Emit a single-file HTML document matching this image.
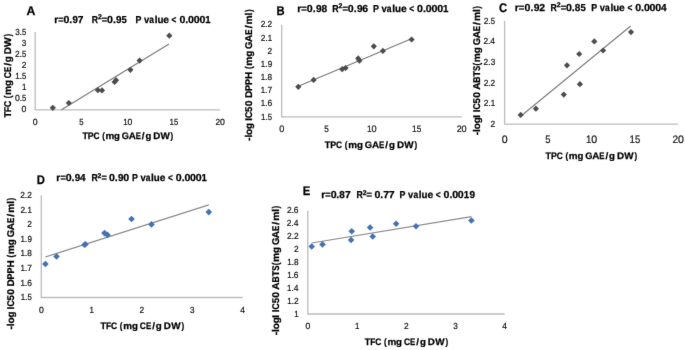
<!DOCTYPE html>
<html><head><meta charset="utf-8"><title>Correlation plots</title>
<style>
html,body{margin:0;padding:0;background:#fff;}
body{width:685px;height:350px;overflow:hidden;}
svg{display:block;}
text{font-family:"Liberation Sans",sans-serif;fill:#000;text-rendering:geometricPrecision;}
text[font-weight=bold],g[font-weight=bold] text{stroke:#000;stroke-width:0.25px;}
.t text{fill:#111111;stroke:#111111;stroke-width:0.2px;}
</style></head><body>
<svg width="685" height="350" viewBox="0 0 685 350">
<defs><filter id="bl" x="0" y="0" width="100%" height="100%" filterUnits="userSpaceOnUse" color-interpolation-filters="sRGB"><feConvolveMatrix order="3" kernelMatrix="0.0052 0.0619 0.0052 0.0619 0.7314 0.0619 0.0052 0.0619 0.0052" edgeMode="duplicate" preserveAlpha="true"/></filter></defs>
<rect width="685" height="350" fill="#fff"/>
<g filter="url(#bl)">
<rect width="685" height="350" fill="#fff"/>
<g><path d="M35.20 32.10V109.80H220.20" fill="none" stroke="#bcbcbc" stroke-width="1.3"/>
<g transform="translate(21.86 112.46)" font-size="8.9" class="t"><text x="-0.34" y="0" textLength="4.82" lengthAdjust="spacingAndGlyphs">0</text></g>
<g transform="translate(15.25 101.36)" font-size="8.9" class="t"><text x="-0.34" y="0" textLength="4.82" lengthAdjust="spacingAndGlyphs">0</text><text x="4.22" y="0" textLength="2.60" lengthAdjust="spacingAndGlyphs">.</text><text x="6.78" y="0" textLength="4.29" lengthAdjust="spacingAndGlyphs">5</text></g>
<g transform="translate(22.58 90.26)" font-size="8.9" class="t"><text x="-0.60" y="0" textLength="4.41" lengthAdjust="spacingAndGlyphs">1</text></g>
<g transform="translate(15.80 79.16)" font-size="8.9" class="t"><text x="-0.60" y="0" textLength="4.41" lengthAdjust="spacingAndGlyphs">1</text><text x="3.67" y="0" textLength="2.60" lengthAdjust="spacingAndGlyphs">.</text><text x="6.23" y="0" textLength="4.29" lengthAdjust="spacingAndGlyphs">5</text></g>
<g transform="translate(22.18 68.06)" font-size="8.9" class="t"><text x="-0.42" y="0" textLength="4.66" lengthAdjust="spacingAndGlyphs">2</text></g>
<g transform="translate(15.42 56.96)" font-size="8.9" class="t"><text x="-0.42" y="0" textLength="4.66" lengthAdjust="spacingAndGlyphs">2</text><text x="4.05" y="0" textLength="2.60" lengthAdjust="spacingAndGlyphs">.</text><text x="6.60" y="0" textLength="4.29" lengthAdjust="spacingAndGlyphs">5</text></g>
<g transform="translate(22.16 45.86)" font-size="8.9" class="t"><text x="-0.31" y="0" textLength="4.51" lengthAdjust="spacingAndGlyphs">3</text></g>
<g transform="translate(15.44 34.76)" font-size="8.9" class="t"><text x="-0.31" y="0" textLength="4.51" lengthAdjust="spacingAndGlyphs">3</text><text x="4.04" y="0" textLength="2.60" lengthAdjust="spacingAndGlyphs">.</text><text x="6.59" y="0" textLength="4.29" lengthAdjust="spacingAndGlyphs">5</text></g>
<g transform="translate(33.13 125.00)" font-size="8.9" class="t"><text x="-0.34" y="0" textLength="4.82" lengthAdjust="spacingAndGlyphs">0</text></g>
<g transform="translate(79.56 125.00)" font-size="8.9" class="t"><text x="-0.31" y="0" textLength="4.29" lengthAdjust="spacingAndGlyphs">5</text></g>
<g transform="translate(123.87 125.00)" font-size="8.9" class="t"><text x="-0.60" y="0" textLength="4.41" lengthAdjust="spacingAndGlyphs">1</text><text x="3.72" y="0" textLength="4.82" lengthAdjust="spacingAndGlyphs">0</text></g>
<g transform="translate(170.12 125.00)" font-size="8.9" class="t"><text x="-0.60" y="0" textLength="4.41" lengthAdjust="spacingAndGlyphs">1</text><text x="3.93" y="0" textLength="4.29" lengthAdjust="spacingAndGlyphs">5</text></g>
<g transform="translate(216.00 125.00)" font-size="8.9" class="t"><text x="-0.42" y="0" textLength="4.66" lengthAdjust="spacingAndGlyphs">2</text><text x="4.10" y="0" textLength="4.82" lengthAdjust="spacingAndGlyphs">0</text></g>
<line x1="61.5" y1="109.8" x2="169.0" y2="44.0" stroke="#787878" stroke-width="1.1"/>
<path d="M52.80 104.70L55.90 107.80L52.80 110.90L49.70 107.80Z" fill="#4d4d4d"/>
<path d="M68.80 99.90L71.90 103.00L68.80 106.10L65.70 103.00Z" fill="#4d4d4d"/>
<path d="M97.90 87.10L101.00 90.20L97.90 93.30L94.80 90.20Z" fill="#4d4d4d"/>
<path d="M102.00 87.30L105.10 90.40L102.00 93.50L98.90 90.40Z" fill="#4d4d4d"/>
<path d="M114.60 78.90L117.70 82.00L114.60 85.10L111.50 82.00Z" fill="#4d4d4d"/>
<path d="M116.00 77.10L119.10 80.20L116.00 83.30L112.90 80.20Z" fill="#4d4d4d"/>
<path d="M130.40 66.70L133.50 69.80L130.40 72.90L127.30 69.80Z" fill="#4d4d4d"/>
<path d="M139.60 57.50L142.70 60.60L139.60 63.70L136.50 60.60Z" fill="#4d4d4d"/>
<path d="M169.30 32.60L172.40 35.70L169.30 38.80L166.20 35.70Z" fill="#4d4d4d"/>
<text x="26.6" y="15.3" font-size="12.5" font-weight="bold" transform="translate(26.6 0) scale(0.98 1) translate(-26.6 0)">A</text>
<g transform="translate(55.00 22.70)" font-size="10.1" font-weight="bold"><text x="-0.67" y="0" textLength="3.95" lengthAdjust="spacingAndGlyphs">r</text><text x="3.33" y="0" textLength="5.33" lengthAdjust="spacingAndGlyphs">=</text><text x="8.53" y="0" textLength="5.90" lengthAdjust="spacingAndGlyphs">0</text><text x="14.22" y="0" textLength="2.95" lengthAdjust="spacingAndGlyphs">.</text><text x="17.40" y="0" textLength="5.39" lengthAdjust="spacingAndGlyphs">9</text><text x="22.66" y="0" textLength="5.69" lengthAdjust="spacingAndGlyphs">7</text></g>
<g transform="translate(92.30 22.70)" font-size="10.1" font-weight="bold"><text x="-0.58" y="0" textLength="6.25" lengthAdjust="spacingAndGlyphs">R</text><text x="5.62" y="-3.6" font-size="6.87" textLength="3.82" lengthAdjust="spacingAndGlyphs">2</text><text x="9.47" y="0" textLength="5.43" lengthAdjust="spacingAndGlyphs">=</text><text x="14.81" y="0" textLength="5.90" lengthAdjust="spacingAndGlyphs">0</text><text x="20.58" y="0" textLength="2.95" lengthAdjust="spacingAndGlyphs">.</text><text x="23.78" y="0" textLength="5.49" lengthAdjust="spacingAndGlyphs">9</text><text x="29.17" y="0" textLength="5.29" lengthAdjust="spacingAndGlyphs">5</text></g>
<g transform="translate(136.10 22.70)" font-size="10.1" font-weight="bold"><text x="-0.59" y="0" textLength="5.91" lengthAdjust="spacingAndGlyphs">P</text><text x="7.85" y="0" textLength="5.23" lengthAdjust="spacingAndGlyphs">v</text><text x="13.24" y="0" textLength="4.72" lengthAdjust="spacingAndGlyphs">a</text><text x="18.57" y="0" textLength="2.80" lengthAdjust="spacingAndGlyphs">l</text><text x="21.31" y="0" textLength="5.97" lengthAdjust="spacingAndGlyphs">u</text><text x="27.26" y="0" textLength="5.68" lengthAdjust="spacingAndGlyphs">e</text><text x="35.53" y="0" textLength="4.87" lengthAdjust="spacingAndGlyphs">&lt;</text><text x="43.39" y="0" textLength="5.90" lengthAdjust="spacingAndGlyphs">0</text><text x="49.17" y="0" textLength="2.95" lengthAdjust="spacingAndGlyphs">.</text><text x="52.01" y="0" textLength="5.90" lengthAdjust="spacingAndGlyphs">0</text><text x="57.66" y="0" textLength="5.90" lengthAdjust="spacingAndGlyphs">0</text><text x="63.31" y="0" textLength="5.90" lengthAdjust="spacingAndGlyphs">0</text><text x="69.21" y="0" textLength="5.36" lengthAdjust="spacingAndGlyphs">1</text></g>
<g transform="translate(82.50 138.80)" font-size="9.4" font-weight="bold"><text x="-0.10" y="0" textLength="5.42" lengthAdjust="spacingAndGlyphs">T</text><text x="5.36" y="0" textLength="5.81" lengthAdjust="spacingAndGlyphs">P</text><text x="11.03" y="0" textLength="6.03" lengthAdjust="spacingAndGlyphs">C</text><text x="19.70" y="0" textLength="2.62" lengthAdjust="spacingAndGlyphs">(</text><text x="22.93" y="0" textLength="8.78" lengthAdjust="spacingAndGlyphs">m</text><text x="31.60" y="0" textLength="5.86" lengthAdjust="spacingAndGlyphs">g</text><text x="39.32" y="0" textLength="7.17" lengthAdjust="spacingAndGlyphs">G</text><text x="46.16" y="0" textLength="7.11" lengthAdjust="spacingAndGlyphs">A</text><text x="53.13" y="0" textLength="5.15" lengthAdjust="spacingAndGlyphs">E</text><text x="59.35" y="0" textLength="2.74" lengthAdjust="spacingAndGlyphs">/</text><text x="62.92" y="0" textLength="5.86" lengthAdjust="spacingAndGlyphs">g</text><text x="70.69" y="0" textLength="7.10" lengthAdjust="spacingAndGlyphs">D</text><text x="77.94" y="0" textLength="9.32" lengthAdjust="spacingAndGlyphs">W</text><text x="88.07" y="0" textLength="2.62" lengthAdjust="spacingAndGlyphs">)</text></g>
<g transform="translate(10.8 117.4) rotate(-90)" font-size="9.8" font-weight="bold"><text x="-0.10" y="0" textLength="5.52" lengthAdjust="spacingAndGlyphs">T</text><text x="5.45" y="0" textLength="5.11" lengthAdjust="spacingAndGlyphs">F</text><text x="10.41" y="0" textLength="6.13" lengthAdjust="spacingAndGlyphs">C</text><text x="19.23" y="0" textLength="2.67" lengthAdjust="spacingAndGlyphs">(</text><text x="22.44" y="0" textLength="9.07" lengthAdjust="spacingAndGlyphs">m</text><text x="31.33" y="0" textLength="5.96" lengthAdjust="spacingAndGlyphs">g</text><text x="39.16" y="0" textLength="6.13" lengthAdjust="spacingAndGlyphs">C</text><text x="45.29" y="0" textLength="5.24" lengthAdjust="spacingAndGlyphs">E</text><text x="51.58" y="0" textLength="2.86" lengthAdjust="spacingAndGlyphs">/</text><text x="55.25" y="0" textLength="5.96" lengthAdjust="spacingAndGlyphs">g</text><text x="63.15" y="0" textLength="7.22" lengthAdjust="spacingAndGlyphs">D</text><text x="70.41" y="0" textLength="9.71" lengthAdjust="spacingAndGlyphs">W</text><text x="80.83" y="0" textLength="2.67" lengthAdjust="spacingAndGlyphs">)</text></g></g>
<g><path d="M281.70 24.71V116.90H461.70" fill="none" stroke="#bcbcbc" stroke-width="1.3"/>
<g transform="translate(261.60 119.56)" font-size="8.9" class="t"><text x="-0.60" y="0" textLength="4.41" lengthAdjust="spacingAndGlyphs">1</text><text x="3.67" y="0" textLength="2.60" lengthAdjust="spacingAndGlyphs">.</text><text x="6.23" y="0" textLength="4.29" lengthAdjust="spacingAndGlyphs">5</text></g>
<g transform="translate(261.38 106.39)" font-size="8.9" class="t"><text x="-0.60" y="0" textLength="4.41" lengthAdjust="spacingAndGlyphs">1</text><text x="3.67" y="0" textLength="2.60" lengthAdjust="spacingAndGlyphs">.</text><text x="6.10" y="0" textLength="4.69" lengthAdjust="spacingAndGlyphs">6</text></g>
<g transform="translate(261.36 93.22)" font-size="8.9" class="t"><text x="-0.60" y="0" textLength="4.41" lengthAdjust="spacingAndGlyphs">1</text><text x="3.67" y="0" textLength="2.60" lengthAdjust="spacingAndGlyphs">.</text><text x="6.12" y="0" textLength="4.75" lengthAdjust="spacingAndGlyphs">7</text></g>
<g transform="translate(261.43 80.05)" font-size="8.9" class="t"><text x="-0.60" y="0" textLength="4.41" lengthAdjust="spacingAndGlyphs">1</text><text x="3.67" y="0" textLength="2.60" lengthAdjust="spacingAndGlyphs">.</text><text x="6.13" y="0" textLength="4.60" lengthAdjust="spacingAndGlyphs">8</text></g>
<g transform="translate(261.38 66.88)" font-size="8.9" class="t"><text x="-0.60" y="0" textLength="4.41" lengthAdjust="spacingAndGlyphs">1</text><text x="3.67" y="0" textLength="2.60" lengthAdjust="spacingAndGlyphs">.</text><text x="6.33" y="0" textLength="4.48" lengthAdjust="spacingAndGlyphs">9</text></g>
<g transform="translate(267.98 53.71)" font-size="8.9" class="t"><text x="-0.42" y="0" textLength="4.66" lengthAdjust="spacingAndGlyphs">2</text></g>
<g transform="translate(261.10 40.54)" font-size="8.9" class="t"><text x="-0.42" y="0" textLength="4.66" lengthAdjust="spacingAndGlyphs">2</text><text x="4.05" y="0" textLength="2.60" lengthAdjust="spacingAndGlyphs">.</text><text x="6.68" y="0" textLength="4.41" lengthAdjust="spacingAndGlyphs">1</text></g>
<g transform="translate(261.07 27.37)" font-size="8.9" class="t"><text x="-0.42" y="0" textLength="4.66" lengthAdjust="spacingAndGlyphs">2</text><text x="4.05" y="0" textLength="2.60" lengthAdjust="spacingAndGlyphs">.</text><text x="6.49" y="0" textLength="4.66" lengthAdjust="spacingAndGlyphs">2</text></g>
<g transform="translate(279.51 132.20)" font-size="9.434000000000001" class="t"><text x="-0.36" y="0" textLength="5.11" lengthAdjust="spacingAndGlyphs">0</text></g>
<g transform="translate(324.69 132.20)" font-size="9.434000000000001" class="t"><text x="-0.33" y="0" textLength="4.55" lengthAdjust="spacingAndGlyphs">5</text></g>
<g transform="translate(367.64 132.20)" font-size="9.434000000000001" class="t"><text x="-0.64" y="0" textLength="4.67" lengthAdjust="spacingAndGlyphs">1</text><text x="3.95" y="0" textLength="5.11" lengthAdjust="spacingAndGlyphs">0</text></g>
<g transform="translate(412.64 132.20)" font-size="9.434000000000001" class="t"><text x="-0.64" y="0" textLength="4.67" lengthAdjust="spacingAndGlyphs">1</text><text x="4.17" y="0" textLength="4.55" lengthAdjust="spacingAndGlyphs">5</text></g>
<g transform="translate(457.24 132.20)" font-size="9.434000000000001" class="t"><text x="-0.45" y="0" textLength="4.94" lengthAdjust="spacingAndGlyphs">2</text><text x="4.35" y="0" textLength="5.11" lengthAdjust="spacingAndGlyphs">0</text></g>
<line x1="298.3" y1="86.3" x2="411.5" y2="38.8" stroke="#787878" stroke-width="1.1"/>
<path d="M298.30 83.70L301.40 86.80L298.30 89.90L295.20 86.80Z" fill="#4d4d4d"/>
<path d="M313.60 76.80L316.70 79.90L313.60 83.00L310.50 79.90Z" fill="#4d4d4d"/>
<path d="M342.20 66.10L345.30 69.20L342.20 72.30L339.10 69.20Z" fill="#4d4d4d"/>
<path d="M345.60 64.90L348.70 68.00L345.60 71.10L342.50 68.00Z" fill="#4d4d4d"/>
<path d="M358.20 55.30L361.30 58.40L358.20 61.50L355.10 58.40Z" fill="#4d4d4d"/>
<path d="M359.40 57.60L362.50 60.70L359.40 63.80L356.30 60.70Z" fill="#4d4d4d"/>
<path d="M373.80 43.20L376.90 46.30L373.80 49.40L370.70 46.30Z" fill="#4d4d4d"/>
<path d="M382.90 47.80L386.00 50.90L382.90 54.00L379.80 50.90Z" fill="#4d4d4d"/>
<path d="M411.60 36.40L414.70 39.50L411.60 42.60L408.50 39.50Z" fill="#4d4d4d"/>
<text x="276.4" y="15.0" font-size="12.5" font-weight="bold" transform="translate(276.4 0) scale(0.9 1) translate(-276.4 0)">B</text>
<g transform="translate(297.90 11.70)" font-size="10.1" font-weight="bold"><text x="-0.69" y="0" textLength="4.10" lengthAdjust="spacingAndGlyphs">r</text><text x="3.45" y="0" textLength="5.53" lengthAdjust="spacingAndGlyphs">=</text><text x="8.96" y="0" textLength="5.90" lengthAdjust="spacingAndGlyphs">0</text><text x="14.81" y="0" textLength="2.95" lengthAdjust="spacingAndGlyphs">.</text><text x="18.05" y="0" textLength="5.59" lengthAdjust="spacingAndGlyphs">9</text><text x="23.52" y="0" textLength="5.69" lengthAdjust="spacingAndGlyphs">8</text></g>
<g transform="translate(332.80 11.70)" font-size="10.1" font-weight="bold"><text x="-0.59" y="0" textLength="6.34" lengthAdjust="spacingAndGlyphs">R</text><text x="5.70" y="-3.6" font-size="6.87" textLength="3.87" lengthAdjust="spacingAndGlyphs">2</text><text x="9.60" y="0" textLength="5.50" lengthAdjust="spacingAndGlyphs">=</text><text x="15.06" y="0" textLength="5.90" lengthAdjust="spacingAndGlyphs">0</text><text x="20.88" y="0" textLength="2.95" lengthAdjust="spacingAndGlyphs">.</text><text x="24.11" y="0" textLength="5.56" lengthAdjust="spacingAndGlyphs">9</text><text x="29.53" y="0" textLength="5.85" lengthAdjust="spacingAndGlyphs">6</text></g>
<g transform="translate(373.50 11.70)" font-size="10.1" font-weight="bold"><text x="-0.60" y="0" textLength="5.94" lengthAdjust="spacingAndGlyphs">P</text><text x="7.89" y="0" textLength="5.26" lengthAdjust="spacingAndGlyphs">v</text><text x="13.31" y="0" textLength="4.75" lengthAdjust="spacingAndGlyphs">a</text><text x="18.67" y="0" textLength="2.81" lengthAdjust="spacingAndGlyphs">l</text><text x="21.42" y="0" textLength="6.01" lengthAdjust="spacingAndGlyphs">u</text><text x="27.40" y="0" textLength="5.71" lengthAdjust="spacingAndGlyphs">e</text><text x="35.73" y="0" textLength="4.90" lengthAdjust="spacingAndGlyphs">&lt;</text><text x="43.64" y="0" textLength="5.90" lengthAdjust="spacingAndGlyphs">0</text><text x="49.45" y="0" textLength="2.95" lengthAdjust="spacingAndGlyphs">.</text><text x="52.31" y="0" textLength="5.90" lengthAdjust="spacingAndGlyphs">0</text><text x="57.99" y="0" textLength="5.90" lengthAdjust="spacingAndGlyphs">0</text><text x="63.66" y="0" textLength="5.90" lengthAdjust="spacingAndGlyphs">0</text><text x="69.58" y="0" textLength="5.39" lengthAdjust="spacingAndGlyphs">1</text></g>
<g transform="translate(324.80 147.70)" font-size="9.4" font-weight="bold"><text x="-0.10" y="0" textLength="5.53" lengthAdjust="spacingAndGlyphs">T</text><text x="5.46" y="0" textLength="5.92" lengthAdjust="spacingAndGlyphs">P</text><text x="11.24" y="0" textLength="6.14" lengthAdjust="spacingAndGlyphs">C</text><text x="20.07" y="0" textLength="2.67" lengthAdjust="spacingAndGlyphs">(</text><text x="23.44" y="0" textLength="8.78" lengthAdjust="spacingAndGlyphs">m</text><text x="32.19" y="0" textLength="5.97" lengthAdjust="spacingAndGlyphs">g</text><text x="40.06" y="0" textLength="7.31" lengthAdjust="spacingAndGlyphs">G</text><text x="47.09" y="0" textLength="7.13" lengthAdjust="spacingAndGlyphs">A</text><text x="54.13" y="0" textLength="5.25" lengthAdjust="spacingAndGlyphs">E</text><text x="60.49" y="0" textLength="2.74" lengthAdjust="spacingAndGlyphs">/</text><text x="64.11" y="0" textLength="5.97" lengthAdjust="spacingAndGlyphs">g</text><text x="72.08" y="0" textLength="7.13" lengthAdjust="spacingAndGlyphs">D</text><text x="79.49" y="0" textLength="9.32" lengthAdjust="spacingAndGlyphs">W</text><text x="89.73" y="0" textLength="2.67" lengthAdjust="spacingAndGlyphs">)</text></g>
<g transform="translate(252.0 140.7) rotate(-90)" font-size="9.8" font-weight="bold"><text x="-0.32" y="0" textLength="3.43" lengthAdjust="spacingAndGlyphs">-</text><text x="3.08" y="0" textLength="2.82" lengthAdjust="spacingAndGlyphs">l</text><text x="5.82" y="0" textLength="6.15" lengthAdjust="spacingAndGlyphs">o</text><text x="11.77" y="0" textLength="6.01" lengthAdjust="spacingAndGlyphs">g</text><text x="19.89" y="0" textLength="2.80" lengthAdjust="spacingAndGlyphs">I</text><text x="22.66" y="0" textLength="6.19" lengthAdjust="spacingAndGlyphs">C</text><text x="28.76" y="0" textLength="5.37" lengthAdjust="spacingAndGlyphs">5</text><text x="34.43" y="0" textLength="5.72" lengthAdjust="spacingAndGlyphs">0</text><text x="42.63" y="0" textLength="7.29" lengthAdjust="spacingAndGlyphs">D</text><text x="49.79" y="0" textLength="5.97" lengthAdjust="spacingAndGlyphs">P</text><text x="55.78" y="0" textLength="5.97" lengthAdjust="spacingAndGlyphs">P</text><text x="61.68" y="0" textLength="7.19" lengthAdjust="spacingAndGlyphs">H</text><text x="71.65" y="0" textLength="2.69" lengthAdjust="spacingAndGlyphs">(</text><text x="74.89" y="0" textLength="9.15" lengthAdjust="spacingAndGlyphs">m</text><text x="83.87" y="0" textLength="6.01" lengthAdjust="spacingAndGlyphs">g</text><text x="91.79" y="0" textLength="7.37" lengthAdjust="spacingAndGlyphs">G</text><text x="98.82" y="0" textLength="7.30" lengthAdjust="spacingAndGlyphs">A</text><text x="105.98" y="0" textLength="5.29" lengthAdjust="spacingAndGlyphs">E</text><text x="112.34" y="0" textLength="2.86" lengthAdjust="spacingAndGlyphs">/</text><text x="116.20" y="0" textLength="9.15" lengthAdjust="spacingAndGlyphs">m</text><text x="125.30" y="0" textLength="2.82" lengthAdjust="spacingAndGlyphs">l</text><text x="128.61" y="0" textLength="2.69" lengthAdjust="spacingAndGlyphs">)</text></g></g>
<g><path d="M504.60 21.10V124.10H678.20" fill="none" stroke="#bcbcbc" stroke-width="1.3"/>
<g transform="translate(490.98 126.76)" font-size="8.9" class="t"><text x="-0.42" y="0" textLength="4.66" lengthAdjust="spacingAndGlyphs">2</text></g>
<g transform="translate(484.10 106.16)" font-size="8.9" class="t"><text x="-0.42" y="0" textLength="4.66" lengthAdjust="spacingAndGlyphs">2</text><text x="4.05" y="0" textLength="2.60" lengthAdjust="spacingAndGlyphs">.</text><text x="6.68" y="0" textLength="4.41" lengthAdjust="spacingAndGlyphs">1</text></g>
<g transform="translate(484.07 85.56)" font-size="8.9" class="t"><text x="-0.42" y="0" textLength="4.66" lengthAdjust="spacingAndGlyphs">2</text><text x="4.05" y="0" textLength="2.60" lengthAdjust="spacingAndGlyphs">.</text><text x="6.49" y="0" textLength="4.66" lengthAdjust="spacingAndGlyphs">2</text></g>
<g transform="translate(484.03 64.96)" font-size="8.9" class="t"><text x="-0.42" y="0" textLength="4.66" lengthAdjust="spacingAndGlyphs">2</text><text x="4.05" y="0" textLength="2.60" lengthAdjust="spacingAndGlyphs">.</text><text x="6.61" y="0" textLength="4.51" lengthAdjust="spacingAndGlyphs">3</text></g>
<g transform="translate(483.84 44.36)" font-size="8.9" class="t"><text x="-0.42" y="0" textLength="4.66" lengthAdjust="spacingAndGlyphs">2</text><text x="4.05" y="0" textLength="2.60" lengthAdjust="spacingAndGlyphs">.</text><text x="6.46" y="0" textLength="4.75" lengthAdjust="spacingAndGlyphs">4</text></g>
<g transform="translate(484.22 23.76)" font-size="8.9" class="t"><text x="-0.42" y="0" textLength="4.66" lengthAdjust="spacingAndGlyphs">2</text><text x="4.05" y="0" textLength="2.60" lengthAdjust="spacingAndGlyphs">.</text><text x="6.60" y="0" textLength="4.29" lengthAdjust="spacingAndGlyphs">5</text></g>
<g transform="translate(502.07 142.70)" font-size="10.858" class="t"><text x="-0.41" y="0" textLength="5.88" lengthAdjust="spacingAndGlyphs">0</text></g>
<g transform="translate(545.69 142.70)" font-size="10.858" class="t"><text x="-0.38" y="0" textLength="5.24" lengthAdjust="spacingAndGlyphs">5</text></g>
<g transform="translate(586.73 142.70)" font-size="10.858" class="t"><text x="-0.74" y="0" textLength="5.38" lengthAdjust="spacingAndGlyphs">1</text><text x="4.54" y="0" textLength="5.88" lengthAdjust="spacingAndGlyphs">0</text></g>
<g transform="translate(630.13 142.70)" font-size="10.858" class="t"><text x="-0.74" y="0" textLength="5.38" lengthAdjust="spacingAndGlyphs">1</text><text x="4.79" y="0" textLength="5.24" lengthAdjust="spacingAndGlyphs">5</text></g>
<g transform="translate(673.07 142.70)" font-size="10.858" class="t"><text x="-0.51" y="0" textLength="5.68" lengthAdjust="spacingAndGlyphs">2</text><text x="5.00" y="0" textLength="5.88" lengthAdjust="spacingAndGlyphs">0</text></g>
<line x1="520.7" y1="116.2" x2="630.7" y2="26.0" stroke="#787878" stroke-width="1.1"/>
<path d="M520.70 111.80L523.80 114.90L520.70 118.00L517.60 114.90Z" fill="#4d4d4d"/>
<path d="M535.90 105.60L539.00 108.70L535.90 111.80L532.80 108.70Z" fill="#4d4d4d"/>
<path d="M563.80 91.50L566.90 94.60L563.80 97.70L560.70 94.60Z" fill="#4d4d4d"/>
<path d="M567.00 62.20L570.10 65.30L567.00 68.40L563.90 65.30Z" fill="#4d4d4d"/>
<path d="M579.20 50.90L582.30 54.00L579.20 57.10L576.10 54.00Z" fill="#4d4d4d"/>
<path d="M579.90 81.10L583.00 84.20L579.90 87.30L576.80 84.20Z" fill="#4d4d4d"/>
<path d="M594.30 38.30L597.40 41.40L594.30 44.50L591.20 41.40Z" fill="#4d4d4d"/>
<path d="M603.10 47.40L606.20 50.50L603.10 53.60L600.00 50.50Z" fill="#4d4d4d"/>
<path d="M631.00 29.00L634.10 32.10L631.00 35.20L627.90 32.10Z" fill="#4d4d4d"/>
<text x="499.1" y="11.7" font-size="12.5" font-weight="bold" transform="translate(499.1 0) scale(0.9 1) translate(-499.1 0)">C</text>
<g transform="translate(515.30 10.70)" font-size="10.1" font-weight="bold"><text x="-0.67" y="0" textLength="4.13" lengthAdjust="spacingAndGlyphs">r</text><text x="3.53" y="0" textLength="5.66" lengthAdjust="spacingAndGlyphs">=</text><text x="9.23" y="0" textLength="5.90" lengthAdjust="spacingAndGlyphs">0</text><text x="15.18" y="0" textLength="2.95" lengthAdjust="spacingAndGlyphs">.</text><text x="18.46" y="0" textLength="5.72" lengthAdjust="spacingAndGlyphs">9</text><text x="24.07" y="0" textLength="5.85" lengthAdjust="spacingAndGlyphs">2</text></g>
<g transform="translate(551.20 10.70)" font-size="10.1" font-weight="bold"><text x="-0.58" y="0" textLength="6.27" lengthAdjust="spacingAndGlyphs">R</text><text x="5.64" y="-3.6" font-size="6.87" textLength="3.83" lengthAdjust="spacingAndGlyphs">2</text><text x="9.49" y="0" textLength="5.44" lengthAdjust="spacingAndGlyphs">=</text><text x="14.87" y="0" textLength="5.90" lengthAdjust="spacingAndGlyphs">0</text><text x="20.64" y="0" textLength="2.95" lengthAdjust="spacingAndGlyphs">.</text><text x="23.61" y="0" textLength="5.60" lengthAdjust="spacingAndGlyphs">8</text><text x="29.26" y="0" textLength="5.31" lengthAdjust="spacingAndGlyphs">5</text></g>
<g transform="translate(591.80 10.70)" font-size="10.1" font-weight="bold"><text x="-0.59" y="0" textLength="5.92" lengthAdjust="spacingAndGlyphs">P</text><text x="7.86" y="0" textLength="5.24" lengthAdjust="spacingAndGlyphs">v</text><text x="13.27" y="0" textLength="4.73" lengthAdjust="spacingAndGlyphs">a</text><text x="18.61" y="0" textLength="2.80" lengthAdjust="spacingAndGlyphs">l</text><text x="21.35" y="0" textLength="5.99" lengthAdjust="spacingAndGlyphs">u</text><text x="27.31" y="0" textLength="5.69" lengthAdjust="spacingAndGlyphs">e</text><text x="35.61" y="0" textLength="4.88" lengthAdjust="spacingAndGlyphs">&lt;</text><text x="43.48" y="0" textLength="5.90" lengthAdjust="spacingAndGlyphs">0</text><text x="49.28" y="0" textLength="2.95" lengthAdjust="spacingAndGlyphs">.</text><text x="52.12" y="0" textLength="5.90" lengthAdjust="spacingAndGlyphs">0</text><text x="57.78" y="0" textLength="5.90" lengthAdjust="spacingAndGlyphs">0</text><text x="63.44" y="0" textLength="5.90" lengthAdjust="spacingAndGlyphs">0</text><text x="69.14" y="0" textLength="5.61" lengthAdjust="spacingAndGlyphs">4</text></g>
<g transform="translate(545.60 158.70)" font-size="9.4" font-weight="bold"><text x="-0.10" y="0" textLength="5.47" lengthAdjust="spacingAndGlyphs">T</text><text x="5.40" y="0" textLength="5.86" lengthAdjust="spacingAndGlyphs">P</text><text x="11.13" y="0" textLength="6.08" lengthAdjust="spacingAndGlyphs">C</text><text x="19.87" y="0" textLength="2.65" lengthAdjust="spacingAndGlyphs">(</text><text x="23.17" y="0" textLength="8.78" lengthAdjust="spacingAndGlyphs">m</text><text x="31.88" y="0" textLength="5.91" lengthAdjust="spacingAndGlyphs">g</text><text x="39.67" y="0" textLength="7.24" lengthAdjust="spacingAndGlyphs">G</text><text x="46.59" y="0" textLength="7.13" lengthAdjust="spacingAndGlyphs">A</text><text x="53.60" y="0" textLength="5.20" lengthAdjust="spacingAndGlyphs">E</text><text x="59.89" y="0" textLength="2.74" lengthAdjust="spacingAndGlyphs">/</text><text x="63.48" y="0" textLength="5.91" lengthAdjust="spacingAndGlyphs">g</text><text x="71.34" y="0" textLength="7.13" lengthAdjust="spacingAndGlyphs">D</text><text x="78.67" y="0" textLength="9.32" lengthAdjust="spacingAndGlyphs">W</text><text x="88.85" y="0" textLength="2.65" lengthAdjust="spacingAndGlyphs">)</text></g>
<g transform="translate(480.0 135.0) rotate(-90)" font-size="9.8" font-weight="bold"><text x="-0.33" y="0" textLength="3.43" lengthAdjust="spacingAndGlyphs">-</text><text x="3.07" y="0" textLength="2.81" lengthAdjust="spacingAndGlyphs">l</text><text x="5.79" y="0" textLength="6.12" lengthAdjust="spacingAndGlyphs">o</text><text x="11.71" y="0" textLength="5.99" lengthAdjust="spacingAndGlyphs">g</text><text x="17.26" y="0" textLength="2.78" lengthAdjust="spacingAndGlyphs">I</text><text x="22.78" y="0" textLength="2.78" lengthAdjust="spacingAndGlyphs">I</text><text x="25.54" y="0" textLength="6.16" lengthAdjust="spacingAndGlyphs">C</text><text x="31.61" y="0" textLength="5.34" lengthAdjust="spacingAndGlyphs">5</text><text x="37.24" y="0" textLength="5.72" lengthAdjust="spacingAndGlyphs">0</text><text x="45.23" y="0" textLength="7.27" lengthAdjust="spacingAndGlyphs">A</text><text x="52.31" y="0" textLength="6.22" lengthAdjust="spacingAndGlyphs">B</text><text x="58.51" y="0" textLength="5.54" lengthAdjust="spacingAndGlyphs">T</text><text x="64.03" y="0" textLength="5.28" lengthAdjust="spacingAndGlyphs">S</text><text x="69.62" y="0" textLength="2.68" lengthAdjust="spacingAndGlyphs">(</text><text x="72.85" y="0" textLength="9.11" lengthAdjust="spacingAndGlyphs">m</text><text x="81.79" y="0" textLength="5.99" lengthAdjust="spacingAndGlyphs">g</text><text x="89.67" y="0" textLength="7.33" lengthAdjust="spacingAndGlyphs">G</text><text x="96.67" y="0" textLength="7.27" lengthAdjust="spacingAndGlyphs">A</text><text x="103.79" y="0" textLength="5.27" lengthAdjust="spacingAndGlyphs">E</text><text x="110.12" y="0" textLength="2.86" lengthAdjust="spacingAndGlyphs">/</text><text x="113.97" y="0" textLength="9.11" lengthAdjust="spacingAndGlyphs">m</text><text x="123.03" y="0" textLength="2.81" lengthAdjust="spacingAndGlyphs">l</text><text x="126.32" y="0" textLength="2.68" lengthAdjust="spacingAndGlyphs">)</text></g></g>
<g><path d="M41.30 195.58V297.50H242.50" fill="none" stroke="#bcbcbc" stroke-width="1.3"/>
<g transform="translate(21.30 300.16)" font-size="8.9" class="t"><text x="-0.60" y="0" textLength="4.41" lengthAdjust="spacingAndGlyphs">1</text><text x="3.67" y="0" textLength="2.60" lengthAdjust="spacingAndGlyphs">.</text><text x="6.23" y="0" textLength="4.29" lengthAdjust="spacingAndGlyphs">5</text></g>
<g transform="translate(21.08 285.60)" font-size="8.9" class="t"><text x="-0.60" y="0" textLength="4.41" lengthAdjust="spacingAndGlyphs">1</text><text x="3.67" y="0" textLength="2.60" lengthAdjust="spacingAndGlyphs">.</text><text x="6.10" y="0" textLength="4.69" lengthAdjust="spacingAndGlyphs">6</text></g>
<g transform="translate(21.06 271.04)" font-size="8.9" class="t"><text x="-0.60" y="0" textLength="4.41" lengthAdjust="spacingAndGlyphs">1</text><text x="3.67" y="0" textLength="2.60" lengthAdjust="spacingAndGlyphs">.</text><text x="6.12" y="0" textLength="4.75" lengthAdjust="spacingAndGlyphs">7</text></g>
<g transform="translate(21.13 256.48)" font-size="8.9" class="t"><text x="-0.60" y="0" textLength="4.41" lengthAdjust="spacingAndGlyphs">1</text><text x="3.67" y="0" textLength="2.60" lengthAdjust="spacingAndGlyphs">.</text><text x="6.13" y="0" textLength="4.60" lengthAdjust="spacingAndGlyphs">8</text></g>
<g transform="translate(21.08 241.92)" font-size="8.9" class="t"><text x="-0.60" y="0" textLength="4.41" lengthAdjust="spacingAndGlyphs">1</text><text x="3.67" y="0" textLength="2.60" lengthAdjust="spacingAndGlyphs">.</text><text x="6.33" y="0" textLength="4.48" lengthAdjust="spacingAndGlyphs">9</text></g>
<g transform="translate(27.68 227.36)" font-size="8.9" class="t"><text x="-0.42" y="0" textLength="4.66" lengthAdjust="spacingAndGlyphs">2</text></g>
<g transform="translate(20.80 212.80)" font-size="8.9" class="t"><text x="-0.42" y="0" textLength="4.66" lengthAdjust="spacingAndGlyphs">2</text><text x="4.05" y="0" textLength="2.60" lengthAdjust="spacingAndGlyphs">.</text><text x="6.68" y="0" textLength="4.41" lengthAdjust="spacingAndGlyphs">1</text></g>
<g transform="translate(20.77 198.24)" font-size="8.9" class="t"><text x="-0.42" y="0" textLength="4.66" lengthAdjust="spacingAndGlyphs">2</text><text x="4.05" y="0" textLength="2.60" lengthAdjust="spacingAndGlyphs">.</text><text x="6.49" y="0" textLength="4.66" lengthAdjust="spacingAndGlyphs">2</text></g>
<g transform="translate(39.23 313.00)" font-size="8.9" class="t"><text x="-0.34" y="0" textLength="4.82" lengthAdjust="spacingAndGlyphs">0</text></g>
<g transform="translate(90.08 313.00)" font-size="8.9" class="t"><text x="-0.60" y="0" textLength="4.41" lengthAdjust="spacingAndGlyphs">1</text></g>
<g transform="translate(140.00 313.00)" font-size="8.9" class="t"><text x="-0.42" y="0" textLength="4.66" lengthAdjust="spacingAndGlyphs">2</text></g>
<g transform="translate(190.32 313.00)" font-size="8.9" class="t"><text x="-0.31" y="0" textLength="4.51" lengthAdjust="spacingAndGlyphs">3</text></g>
<g transform="translate(240.35 313.00)" font-size="8.9" class="t"><text x="-0.20" y="0" textLength="4.75" lengthAdjust="spacingAndGlyphs">4</text></g>
<line x1="45.4" y1="257.0" x2="208.8" y2="204.9" stroke="#8a8a8a" stroke-width="1.25"/>
<path d="M45.40 260.70L48.70 264.00L45.40 267.30L42.10 264.00Z" fill="#4472b4"/>
<path d="M56.50 253.20L59.80 256.50L56.50 259.80L53.20 256.50Z" fill="#4472b4"/>
<path d="M84.50 241.50L87.80 244.80L84.50 248.10L81.20 244.80Z" fill="#4472b4"/>
<path d="M85.50 240.90L88.80 244.20L85.50 247.50L82.20 244.20Z" fill="#4472b4"/>
<path d="M104.50 229.80L107.80 233.10L104.50 236.40L101.20 233.10Z" fill="#4472b4"/>
<path d="M107.50 231.60L110.80 234.90L107.50 238.20L104.20 234.90Z" fill="#4472b4"/>
<path d="M131.50 215.70L134.80 219.00L131.50 222.30L128.20 219.00Z" fill="#4472b4"/>
<path d="M151.50 221.10L154.80 224.40L151.50 227.70L148.20 224.40Z" fill="#4472b4"/>
<path d="M208.80 208.80L212.10 212.10L208.80 215.40L205.50 212.10Z" fill="#4472b4"/>
<text x="36.8" y="184.3" font-size="12.5" font-weight="bold" transform="translate(36.8 0) scale(0.9 1) translate(-36.8 0)">D</text>
<g transform="translate(57.00 181.30)" font-size="10.1" font-weight="bold"><text x="-0.68" y="0" textLength="4.02" lengthAdjust="spacingAndGlyphs">r</text><text x="3.39" y="0" textLength="5.42" lengthAdjust="spacingAndGlyphs">=</text><text x="8.73" y="0" textLength="5.90" lengthAdjust="spacingAndGlyphs">0</text><text x="14.49" y="0" textLength="2.95" lengthAdjust="spacingAndGlyphs">.</text><text x="17.70" y="0" textLength="5.48" lengthAdjust="spacingAndGlyphs">9</text><text x="22.98" y="0" textLength="5.57" lengthAdjust="spacingAndGlyphs">4</text></g>
<g transform="translate(92.00 181.30)" font-size="10.1" font-weight="bold"><text x="-0.57" y="0" textLength="6.19" lengthAdjust="spacingAndGlyphs">R</text><text x="5.57" y="-3.6" font-size="6.87" textLength="3.78" lengthAdjust="spacingAndGlyphs">2</text><text x="9.38" y="0" textLength="5.38" lengthAdjust="spacingAndGlyphs">=</text><text x="17.13" y="0" textLength="5.90" lengthAdjust="spacingAndGlyphs">0</text><text x="22.86" y="0" textLength="2.95" lengthAdjust="spacingAndGlyphs">.</text><text x="26.05" y="0" textLength="5.44" lengthAdjust="spacingAndGlyphs">9</text><text x="31.20" y="0" textLength="5.90" lengthAdjust="spacingAndGlyphs">0</text></g>
<g transform="translate(132.60 181.30)" font-size="10.1" font-weight="bold"><text x="-0.59" y="0" textLength="5.90" lengthAdjust="spacingAndGlyphs">P</text><text x="7.83" y="0" textLength="5.22" lengthAdjust="spacingAndGlyphs">v</text><text x="13.21" y="0" textLength="4.71" lengthAdjust="spacingAndGlyphs">a</text><text x="18.52" y="0" textLength="2.79" lengthAdjust="spacingAndGlyphs">l</text><text x="21.25" y="0" textLength="5.96" lengthAdjust="spacingAndGlyphs">u</text><text x="27.18" y="0" textLength="5.66" lengthAdjust="spacingAndGlyphs">e</text><text x="35.44" y="0" textLength="4.86" lengthAdjust="spacingAndGlyphs">&lt;</text><text x="43.26" y="0" textLength="5.90" lengthAdjust="spacingAndGlyphs">0</text><text x="49.04" y="0" textLength="2.95" lengthAdjust="spacingAndGlyphs">.</text><text x="51.86" y="0" textLength="5.90" lengthAdjust="spacingAndGlyphs">0</text><text x="57.50" y="0" textLength="5.90" lengthAdjust="spacingAndGlyphs">0</text><text x="63.13" y="0" textLength="5.90" lengthAdjust="spacingAndGlyphs">0</text><text x="69.02" y="0" textLength="5.34" lengthAdjust="spacingAndGlyphs">1</text></g>
<g transform="translate(100.50 329.20)" font-size="9.4" font-weight="bold"><text x="-0.10" y="0" textLength="5.53" lengthAdjust="spacingAndGlyphs">T</text><text x="5.46" y="0" textLength="5.13" lengthAdjust="spacingAndGlyphs">F</text><text x="10.44" y="0" textLength="6.15" lengthAdjust="spacingAndGlyphs">C</text><text x="19.27" y="0" textLength="2.68" lengthAdjust="spacingAndGlyphs">(</text><text x="22.65" y="0" textLength="8.78" lengthAdjust="spacingAndGlyphs">m</text><text x="31.41" y="0" textLength="5.97" lengthAdjust="spacingAndGlyphs">g</text><text x="39.25" y="0" textLength="6.15" lengthAdjust="spacingAndGlyphs">C</text><text x="45.40" y="0" textLength="5.26" lengthAdjust="spacingAndGlyphs">E</text><text x="51.76" y="0" textLength="2.74" lengthAdjust="spacingAndGlyphs">/</text><text x="55.38" y="0" textLength="5.97" lengthAdjust="spacingAndGlyphs">g</text><text x="63.37" y="0" textLength="7.13" lengthAdjust="spacingAndGlyphs">D</text><text x="70.79" y="0" textLength="9.32" lengthAdjust="spacingAndGlyphs">W</text><text x="81.02" y="0" textLength="2.68" lengthAdjust="spacingAndGlyphs">)</text></g>
<g transform="translate(14.1 329.3) rotate(-90)" font-size="9.8" font-weight="bold"><text x="-0.32" y="0" textLength="3.43" lengthAdjust="spacingAndGlyphs">-</text><text x="3.09" y="0" textLength="2.83" lengthAdjust="spacingAndGlyphs">l</text><text x="5.83" y="0" textLength="6.16" lengthAdjust="spacingAndGlyphs">o</text><text x="11.79" y="0" textLength="6.03" lengthAdjust="spacingAndGlyphs">g</text><text x="19.93" y="0" textLength="2.80" lengthAdjust="spacingAndGlyphs">I</text><text x="22.71" y="0" textLength="6.21" lengthAdjust="spacingAndGlyphs">C</text><text x="28.83" y="0" textLength="5.38" lengthAdjust="spacingAndGlyphs">5</text><text x="34.51" y="0" textLength="5.72" lengthAdjust="spacingAndGlyphs">0</text><text x="42.73" y="0" textLength="7.31" lengthAdjust="spacingAndGlyphs">D</text><text x="49.91" y="0" textLength="5.98" lengthAdjust="spacingAndGlyphs">P</text><text x="55.90" y="0" textLength="5.98" lengthAdjust="spacingAndGlyphs">P</text><text x="61.82" y="0" textLength="7.21" lengthAdjust="spacingAndGlyphs">H</text><text x="71.81" y="0" textLength="2.70" lengthAdjust="spacingAndGlyphs">(</text><text x="75.07" y="0" textLength="9.15" lengthAdjust="spacingAndGlyphs">m</text><text x="84.06" y="0" textLength="6.03" lengthAdjust="spacingAndGlyphs">g</text><text x="92.00" y="0" textLength="7.38" lengthAdjust="spacingAndGlyphs">G</text><text x="99.04" y="0" textLength="7.32" lengthAdjust="spacingAndGlyphs">A</text><text x="106.22" y="0" textLength="5.31" lengthAdjust="spacingAndGlyphs">E</text><text x="112.60" y="0" textLength="2.86" lengthAdjust="spacingAndGlyphs">/</text><text x="116.48" y="0" textLength="9.15" lengthAdjust="spacingAndGlyphs">m</text><text x="125.59" y="0" textLength="2.83" lengthAdjust="spacingAndGlyphs">l</text><text x="128.90" y="0" textLength="2.70" lengthAdjust="spacingAndGlyphs">)</text></g></g>
<g><path d="M307.80 210.80V314.00H504.60" fill="none" stroke="#bcbcbc" stroke-width="1.3"/>
<g transform="translate(294.78 316.66)" font-size="8.9" class="t"><text x="-0.60" y="0" textLength="4.41" lengthAdjust="spacingAndGlyphs">1</text></g>
<g transform="translate(287.85 303.76)" font-size="8.9" class="t"><text x="-0.60" y="0" textLength="4.41" lengthAdjust="spacingAndGlyphs">1</text><text x="3.67" y="0" textLength="2.60" lengthAdjust="spacingAndGlyphs">.</text><text x="6.11" y="0" textLength="4.66" lengthAdjust="spacingAndGlyphs">2</text></g>
<g transform="translate(287.62 290.86)" font-size="8.9" class="t"><text x="-0.60" y="0" textLength="4.41" lengthAdjust="spacingAndGlyphs">1</text><text x="3.67" y="0" textLength="2.60" lengthAdjust="spacingAndGlyphs">.</text><text x="6.08" y="0" textLength="4.75" lengthAdjust="spacingAndGlyphs">4</text></g>
<g transform="translate(287.78 277.96)" font-size="8.9" class="t"><text x="-0.60" y="0" textLength="4.41" lengthAdjust="spacingAndGlyphs">1</text><text x="3.67" y="0" textLength="2.60" lengthAdjust="spacingAndGlyphs">.</text><text x="6.10" y="0" textLength="4.69" lengthAdjust="spacingAndGlyphs">6</text></g>
<g transform="translate(287.83 265.06)" font-size="8.9" class="t"><text x="-0.60" y="0" textLength="4.41" lengthAdjust="spacingAndGlyphs">1</text><text x="3.67" y="0" textLength="2.60" lengthAdjust="spacingAndGlyphs">.</text><text x="6.13" y="0" textLength="4.60" lengthAdjust="spacingAndGlyphs">8</text></g>
<g transform="translate(294.38 252.16)" font-size="8.9" class="t"><text x="-0.42" y="0" textLength="4.66" lengthAdjust="spacingAndGlyphs">2</text></g>
<g transform="translate(287.47 239.26)" font-size="8.9" class="t"><text x="-0.42" y="0" textLength="4.66" lengthAdjust="spacingAndGlyphs">2</text><text x="4.05" y="0" textLength="2.60" lengthAdjust="spacingAndGlyphs">.</text><text x="6.49" y="0" textLength="4.66" lengthAdjust="spacingAndGlyphs">2</text></g>
<g transform="translate(287.24 226.36)" font-size="8.9" class="t"><text x="-0.42" y="0" textLength="4.66" lengthAdjust="spacingAndGlyphs">2</text><text x="4.05" y="0" textLength="2.60" lengthAdjust="spacingAndGlyphs">.</text><text x="6.46" y="0" textLength="4.75" lengthAdjust="spacingAndGlyphs">4</text></g>
<g transform="translate(287.40 213.46)" font-size="8.9" class="t"><text x="-0.42" y="0" textLength="4.66" lengthAdjust="spacingAndGlyphs">2</text><text x="4.05" y="0" textLength="2.60" lengthAdjust="spacingAndGlyphs">.</text><text x="6.48" y="0" textLength="4.69" lengthAdjust="spacingAndGlyphs">6</text></g>
<g transform="translate(305.73 329.00)" font-size="8.9" class="t"><text x="-0.34" y="0" textLength="4.82" lengthAdjust="spacingAndGlyphs">0</text></g>
<g transform="translate(355.48 329.00)" font-size="8.9" class="t"><text x="-0.60" y="0" textLength="4.41" lengthAdjust="spacingAndGlyphs">1</text></g>
<g transform="translate(404.30 329.00)" font-size="8.9" class="t"><text x="-0.42" y="0" textLength="4.66" lengthAdjust="spacingAndGlyphs">2</text></g>
<g transform="translate(453.52 329.00)" font-size="8.9" class="t"><text x="-0.31" y="0" textLength="4.51" lengthAdjust="spacingAndGlyphs">3</text></g>
<g transform="translate(502.45 329.00)" font-size="8.9" class="t"><text x="-0.20" y="0" textLength="4.75" lengthAdjust="spacingAndGlyphs">4</text></g>
<line x1="311.7" y1="243.0" x2="471.4" y2="216.7" stroke="#8a8a8a" stroke-width="1.25"/>
<path d="M311.70 243.20L315.00 246.50L311.70 249.80L308.40 246.50Z" fill="#4472b4"/>
<path d="M322.50 241.10L325.80 244.40L322.50 247.70L319.20 244.40Z" fill="#4472b4"/>
<path d="M351.10 236.70L354.40 240.00L351.10 243.30L347.80 240.00Z" fill="#4472b4"/>
<path d="M351.70 228.00L355.00 231.30L351.70 234.60L348.40 231.30Z" fill="#4472b4"/>
<path d="M370.10 224.20L373.40 227.50L370.10 230.80L366.80 227.50Z" fill="#4472b4"/>
<path d="M372.70 233.20L376.00 236.50L372.70 239.80L369.40 236.50Z" fill="#4472b4"/>
<path d="M396.10 220.40L399.40 223.70L396.10 227.00L392.80 223.70Z" fill="#4472b4"/>
<path d="M416.00 223.00L419.30 226.30L416.00 229.60L412.70 226.30Z" fill="#4472b4"/>
<path d="M471.40 217.20L474.70 220.50L471.40 223.80L468.10 220.50Z" fill="#4472b4"/>
<text x="302.8" y="195.0" font-size="12.5" font-weight="bold" transform="translate(302.8 0) scale(0.9 1) translate(-302.8 0)">E</text>
<g transform="translate(322.00 198.30)" font-size="10.1" font-weight="bold"><text x="-0.68" y="0" textLength="3.99" lengthAdjust="spacingAndGlyphs">r</text><text x="3.36" y="0" textLength="5.39" lengthAdjust="spacingAndGlyphs">=</text><text x="8.66" y="0" textLength="5.90" lengthAdjust="spacingAndGlyphs">0</text><text x="14.39" y="0" textLength="2.95" lengthAdjust="spacingAndGlyphs">.</text><text x="17.34" y="0" textLength="5.55" lengthAdjust="spacingAndGlyphs">8</text><text x="22.91" y="0" textLength="5.75" lengthAdjust="spacingAndGlyphs">7</text></g>
<g transform="translate(357.00 198.30)" font-size="10.1" font-weight="bold"><text x="-0.58" y="0" textLength="6.29" lengthAdjust="spacingAndGlyphs">R</text><text x="5.65" y="-3.6" font-size="6.87" textLength="3.84" lengthAdjust="spacingAndGlyphs">2</text><text x="9.52" y="0" textLength="5.46" lengthAdjust="spacingAndGlyphs">=</text><text x="17.44" y="0" textLength="5.90" lengthAdjust="spacingAndGlyphs">0</text><text x="23.23" y="0" textLength="2.95" lengthAdjust="spacingAndGlyphs">.</text><text x="26.19" y="0" textLength="5.82" lengthAdjust="spacingAndGlyphs">7</text><text x="31.84" y="0" textLength="5.82" lengthAdjust="spacingAndGlyphs">7</text></g>
<g transform="translate(400.20 198.30)" font-size="10.1" font-weight="bold"><text x="-0.59" y="0" textLength="5.91" lengthAdjust="spacingAndGlyphs">P</text><text x="7.85" y="0" textLength="5.23" lengthAdjust="spacingAndGlyphs">v</text><text x="13.25" y="0" textLength="4.72" lengthAdjust="spacingAndGlyphs">a</text><text x="18.58" y="0" textLength="2.80" lengthAdjust="spacingAndGlyphs">l</text><text x="21.31" y="0" textLength="5.97" lengthAdjust="spacingAndGlyphs">u</text><text x="27.26" y="0" textLength="5.68" lengthAdjust="spacingAndGlyphs">e</text><text x="35.54" y="0" textLength="4.87" lengthAdjust="spacingAndGlyphs">&lt;</text><text x="43.40" y="0" textLength="5.90" lengthAdjust="spacingAndGlyphs">0</text><text x="49.19" y="0" textLength="2.95" lengthAdjust="spacingAndGlyphs">.</text><text x="52.03" y="0" textLength="5.90" lengthAdjust="spacingAndGlyphs">0</text><text x="57.68" y="0" textLength="5.90" lengthAdjust="spacingAndGlyphs">0</text><text x="63.58" y="0" textLength="5.36" lengthAdjust="spacingAndGlyphs">1</text><text x="69.35" y="0" textLength="5.52" lengthAdjust="spacingAndGlyphs">9</text></g>
<g transform="translate(364.90 345.00)" font-size="9.4" font-weight="bold"><text x="-0.10" y="0" textLength="5.50" lengthAdjust="spacingAndGlyphs">T</text><text x="5.43" y="0" textLength="5.10" lengthAdjust="spacingAndGlyphs">F</text><text x="10.37" y="0" textLength="6.11" lengthAdjust="spacingAndGlyphs">C</text><text x="19.16" y="0" textLength="2.66" lengthAdjust="spacingAndGlyphs">(</text><text x="22.49" y="0" textLength="8.78" lengthAdjust="spacingAndGlyphs">m</text><text x="31.22" y="0" textLength="5.94" lengthAdjust="spacingAndGlyphs">g</text><text x="39.02" y="0" textLength="6.11" lengthAdjust="spacingAndGlyphs">C</text><text x="45.12" y="0" textLength="5.23" lengthAdjust="spacingAndGlyphs">E</text><text x="51.44" y="0" textLength="2.74" lengthAdjust="spacingAndGlyphs">/</text><text x="55.05" y="0" textLength="5.94" lengthAdjust="spacingAndGlyphs">g</text><text x="62.96" y="0" textLength="7.13" lengthAdjust="spacingAndGlyphs">D</text><text x="70.33" y="0" textLength="9.32" lengthAdjust="spacingAndGlyphs">W</text><text x="80.54" y="0" textLength="2.66" lengthAdjust="spacingAndGlyphs">)</text></g>
<g transform="translate(278.7 335.0) rotate(-90)" font-size="9.8" font-weight="bold"><text x="-0.33" y="0" textLength="3.43" lengthAdjust="spacingAndGlyphs">-</text><text x="3.08" y="0" textLength="2.82" lengthAdjust="spacingAndGlyphs">l</text><text x="5.80" y="0" textLength="6.14" lengthAdjust="spacingAndGlyphs">o</text><text x="11.74" y="0" textLength="6.00" lengthAdjust="spacingAndGlyphs">g</text><text x="17.30" y="0" textLength="2.79" lengthAdjust="spacingAndGlyphs">I</text><text x="22.83" y="0" textLength="2.79" lengthAdjust="spacingAndGlyphs">I</text><text x="25.60" y="0" textLength="6.18" lengthAdjust="spacingAndGlyphs">C</text><text x="31.68" y="0" textLength="5.36" lengthAdjust="spacingAndGlyphs">5</text><text x="37.33" y="0" textLength="5.72" lengthAdjust="spacingAndGlyphs">0</text><text x="45.33" y="0" textLength="7.29" lengthAdjust="spacingAndGlyphs">A</text><text x="52.43" y="0" textLength="6.24" lengthAdjust="spacingAndGlyphs">B</text><text x="58.64" y="0" textLength="5.56" lengthAdjust="spacingAndGlyphs">T</text><text x="64.18" y="0" textLength="5.29" lengthAdjust="spacingAndGlyphs">S</text><text x="69.79" y="0" textLength="2.69" lengthAdjust="spacingAndGlyphs">(</text><text x="73.02" y="0" textLength="9.13" lengthAdjust="spacingAndGlyphs">m</text><text x="81.98" y="0" textLength="6.00" lengthAdjust="spacingAndGlyphs">g</text><text x="89.88" y="0" textLength="7.35" lengthAdjust="spacingAndGlyphs">G</text><text x="96.89" y="0" textLength="7.29" lengthAdjust="spacingAndGlyphs">A</text><text x="104.04" y="0" textLength="5.28" lengthAdjust="spacingAndGlyphs">E</text><text x="110.38" y="0" textLength="2.86" lengthAdjust="spacingAndGlyphs">/</text><text x="114.24" y="0" textLength="9.13" lengthAdjust="spacingAndGlyphs">m</text><text x="123.31" y="0" textLength="2.82" lengthAdjust="spacingAndGlyphs">l</text><text x="126.61" y="0" textLength="2.69" lengthAdjust="spacingAndGlyphs">)</text></g></g>
</g>
</svg>
</body></html>
